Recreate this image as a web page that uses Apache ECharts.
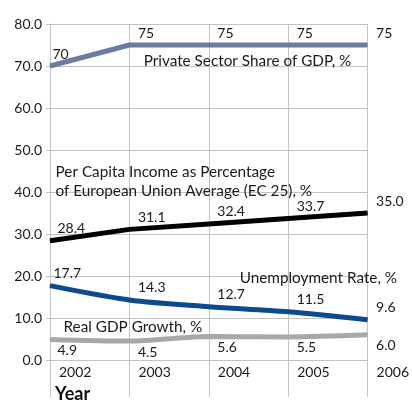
<!DOCTYPE html>
<html>
<head>
<meta charset="utf-8">
<script src="https://cdn.jsdelivr.net/npm/echarts@6/dist/echarts.min.js"></script>
<style>
  html, body { margin: 0; padding: 0; background: #fff; }
  #chart { width: 412px; height: 401px; }
</style>
</head>
<body>
<div id="chart"></div>
<script>
// Economic indicators, 2002-2006
const years = [2002, 2003, 2004, 2005, 2006];
const privateShare = [70, 75, 75, 75, 75];
const perCapitaIncome = [28.4, 31.1, 32.4, 33.7, 35.0];
const unemployment = [17.7, 14.3, 12.7, 11.5, 9.6];
const gdpGrowth = [4.9, 4.5, 5.6, 5.5, 6.0];

const seriesNames = {
  privateShare: 'Private Sector Share of GDP, %',
  perCapitaIncome: 'Per Capita Income as Percentage\nof European Union Average (EC 25), %',
  unemployment: 'Unemployment Rate, %',
  gdpGrowth: 'Real GDP Growth, %'
};

const FONT = 'Lato, "DejaVu Sans", sans-serif';
const TEXT = '#1a1a1a';
const GRID = '#c4c4c4';

function points(values, fmt, firstDx, dy) {
  return years.map((y, i) => ({
    value: [y, values[i]],
    label: {
      show: true,
      position: 'right',
      distance: 0,
      offset: [i === 0 ? firstDx : 8, dy],
      formatter: () => fmt(values[i])
    }
  }));
}

function nameTag(text, coord) {
  return {
    symbolSize: 0,
    silent: true,
    data: [{
      coord: coord,
      label: {
        show: true,
        position: 'right',
        distance: 0,
        formatter: text,
        fontFamily: FONT,
        fontSize: 15.3,
        lineHeight: 19,
        color: TEXT
      }
    }]
  };
}

function lineSeries(name, values, color, fmt, firstDx, dy, smooth, tag) {
  return {
    name: name,
    type: 'line',
    data: points(values, fmt, firstDx, dy),
    smooth: smooth,
    symbol: 'circle',
    symbolSize: 1,
    itemStyle: { color: color },
    lineStyle: { color: color, width: 5 },
    label: { fontFamily: FONT, fontSize: 14, color: TEXT },
    clip: false,
    silent: true,
    markPoint: tag
  };
}

const chart = echarts.init(document.getElementById('chart'), null, { renderer: 'canvas' });

chart.setOption({
  animation: false,
  backgroundColor: '#fff',
  title: {
    text: 'Year',
    left: 55,
    top: 385,
    padding: 0,
    textStyle: { fontFamily: FONT, fontSize: 18, fontWeight: 'bold', color: '#111' }
  },
  grid: { left: 50, right: 39, top: 24, bottom: 41 },
  xAxis: {
    type: 'value',
    min: 2002,
    max: 2006,
    interval: 1,
    axisLine: { show: true, lineStyle: { color: GRID, width: 1 } },
    axisTick: { show: true, length: 37, lineStyle: { color: GRID, width: 1 } },
    splitLine: { show: true, lineStyle: { color: GRID, width: 1 } },
    axisLabel: {
      show: true,
      margin: 5,
      align: 'left',
      padding: [0, 0, 0, 9],
      fontFamily: FONT,
      fontSize: 14,
      color: TEXT,
      showMinLabel: true,
      showMaxLabel: true,
      formatter: v => String(v)
    }
  },
  yAxis: {
    type: 'value',
    min: 0,
    max: 80,
    interval: 10,
    axisLine: { show: true, lineStyle: { color: GRID, width: 1 } },
    axisTick: { show: true, length: 4, lineStyle: { color: GRID, width: 1 } },
    splitLine: { show: true, lineStyle: { color: GRID, width: 1 } },
    axisLabel: {
      margin: 8,
      fontFamily: FONT,
      fontSize: 14,
      color: TEXT,
      formatter: v => v.toFixed(1)
    }
  },
  series: [
    lineSeries(seriesNames.privateShare, privateShare, '#6b7ba3', v => String(v), 2, -12, false,
      nameTag(seriesNames.privateShare, [2003.18, 71.2])),
    lineSeries(seriesNames.perCapitaIncome, perCapitaIncome, '#000000', v => v.toFixed(1), 7, -12, false,
      nameTag(seriesNames.perCapitaIncome, [2002.07, 42.5])),
    lineSeries(seriesNames.unemployment, unemployment, '#0b4a8c', v => v.toFixed(1), 3, -12, 0.3,
      nameTag(seriesNames.unemployment, [2004.39, 19.5])),
    lineSeries(seriesNames.gdpGrowth, gdpGrowth, '#a8a8a8', v => v.toFixed(1), 7, 11, 0.3,
      nameTag(seriesNames.gdpGrowth, [2002.17, 7.86]))
  ]
});
</script>
</body>
</html>
